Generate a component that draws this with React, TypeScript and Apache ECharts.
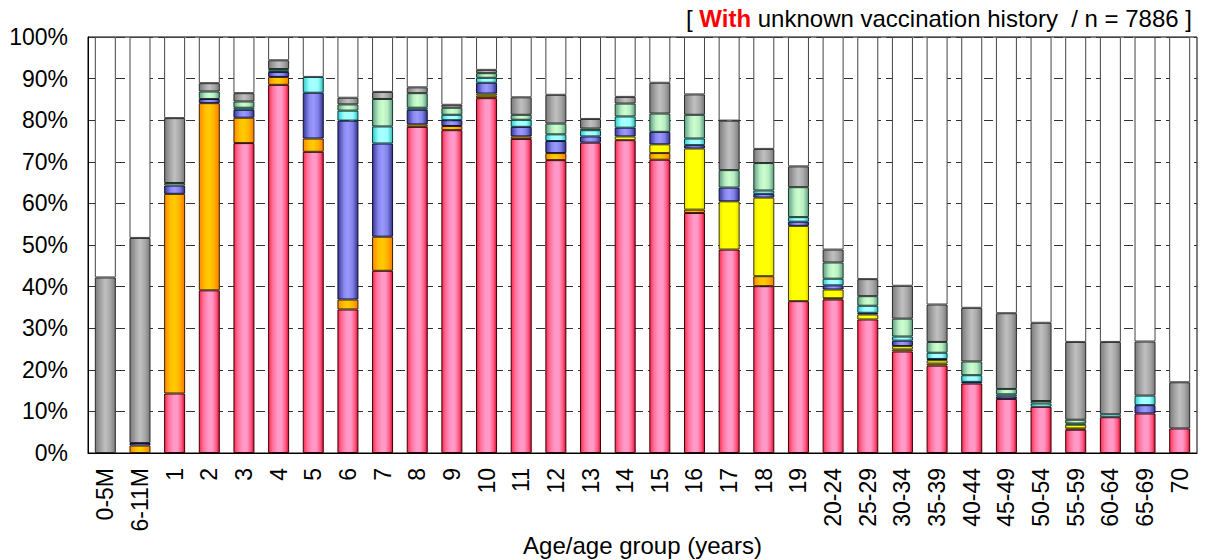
import React, { useEffect, useRef } from "react";
import * as echarts from "echarts";

const categories = [
  "0-5M", "6-11M", "1", "2", "3", "4", "5", "6", "7", "8", "9", "10",
  "11", "12", "13", "14", "15", "16", "17", "18", "19",
  "20-24", "25-29", "30-34", "35-39", "40-44", "45-49", "50-54",
  "55-59", "60-64", "65-69", "70",
];

const pinkValues = [0, 0, 14.3, 39.1, 74.5, 88.5, 72.4, 34.5, 43.8, 78.4, 77.6, 85.3, 75.5, 70.4, 74.6, 75.2, 70.5, 57.7, 48.9, 40.1, 36.5, 36.9, 32.1, 24.4, 21.0, 16.7, 13.0, 11.1, 5.6, 8.6, 9.5, 5.9];
const orangeValues = [0, 1.8, 48.0, 45.0, 6.1, 1.9, 3.2, 2.4, 8.2, 0.6, 1.0, 0.6, 0.6, 1.7, 0, 0, 1.6, 0.8, 0, 2.4, 0, 0.3, 0, 0.5, 0.5, 0, 0, 0, 0.3, 0, 0, 0];
const yellowValues = [0, 0, 0, 0, 0, 0, 0, 0, 0, 0, 0, 0.5, 0, 0, 0, 0.9, 2.1, 14.7, 11.6, 18.9, 18.1, 2.1, 1.2, 0.8, 0.8, 0, 0, 0, 0.9, 0, 0, 0];
const blueValues = [0, 0.6, 2.0, 1.0, 1.9, 1.2, 11.0, 43.0, 22.4, 3.5, 1.4, 2.6, 2.3, 2.9, 1.5, 2.1, 3.0, 0.8, 3.3, 0.9, 1.0, 1.0, 0.4, 1.3, 0.3, 0.4, 0.6, 0, 0, 0, 2.0, 0];
const cyanValues = [0, 0, 0, 0, 0.5, 0.3, 3.8, 2.4, 4.1, 0.5, 1.3, 1.2, 1.7, 1.6, 1.5, 2.7, 0, 1.6, 0, 0.8, 1.1, 1.6, 1.7, 1.0, 1.5, 1.6, 0.5, 0.8, 0.3, 0.7, 2.3, 0];
const greenValues = [0, 0, 0.6, 1.8, 1.5, 0.4, 0, 1.5, 6.6, 3.5, 1.7, 1.1, 1.2, 2.6, 0.4, 3.1, 4.4, 5.7, 4.2, 6.6, 7.2, 3.9, 2.3, 4.3, 2.6, 3.3, 1.3, 0.6, 0.9, 0, 0, 0];
const greyValues = [42.2, 49.3, 15.6, 2.0, 2.0, 2.1, 0, 1.6, 1.7, 1.4, 0.7, 0.8, 4.2, 6.9, 2.3, 1.6, 7.4, 4.9, 11.9, 3.4, 5.0, 3.1, 4.1, 7.9, 9.0, 12.9, 18.2, 18.8, 18.7, 17.4, 13.0, 11.1];

const yTicks = [0, 10, 20, 30, 40, 50, 60, 70, 80, 90, 100];

const FONT = "'Liberation Sans', Arial, sans-serif";

function grad(stops: [number, string][]) {
  return {
    type: "linear",
    x: 0,
    y: 0,
    x2: 1,
    y2: 0,
    colorStops: stops.map(([offset, color]) => ({ offset, color })),
  };
}

export default function App() {
  const ref = useRef<HTMLDivElement>(null);

  useEffect(() => {
    document.body.style.margin = "0";
    if (!ref.current) return;
    const chart = echarts.init(ref.current, null, { renderer: "svg" });

    const whiteValues = categories.map((_, i) => {
      const s =
        pinkValues[i] + orangeValues[i] + yellowValues[i] + blueValues[i] +
        cyanValues[i] + greenValues[i] + greyValues[i];
      return Math.max(0, +(100 - s).toFixed(2));
    });

    const mk = (name: string, data: number[], color: any, border: string) => ({
      name,
      type: "bar",
      stack: "total",
      barWidth: 21,
      data: data.map((v) => (v === 0 ? "-" : v)),
      itemStyle: { color, borderColor: border, borderWidth: 1 },
      emphasis: { disabled: true },
    });

    const series = [
      mk("pink", pinkValues, grad([[0, "#ff2a4a"], [0.2, "#ff6f9a"], [0.45, "#ff99c8"], [0.65, "#ff99c8"], [0.85, "#ff5a80"], [1, "#d8103a"]]), "#3a0008"),
      mk("orange", orangeValues, grad([[0, "#ff8a00"], [0.3, "#ffc000"], [0.5, "#ffcc00"], [0.75, "#ffb000"], [1, "#ff7a00"]]), "#3a2000"),
      mk("yellow", yellowValues, grad([[0, "#e8e000"], [0.2, "#ffff00"], [0.8, "#ffff00"], [1, "#e6d800"]]), "#3a3a00"),
      mk("blue", blueValues, grad([[0, "#3a3a99"], [0.3, "#8888ee"], [0.5, "#9999ff"], [0.75, "#8080e6"], [1, "#333388"]]), "#10103a"),
      mk("cyan", cyanValues, grad([[0, "#33cccc"], [0.3, "#99ffff"], [0.5, "#aaffff"], [0.75, "#99ffff"], [1, "#33bbbb"]]), "#0a3a3a"),
      mk("green", greenValues, grad([[0, "#5f9f7f"], [0.3, "#b8ecc4"], [0.5, "#ccffcc"], [0.75, "#b8ecc4"], [1, "#5f9f7f"]]), "#1a3a2a"),
      mk("grey", greyValues, grad([[0, "#7a7a7a"], [0.3, "#a8a8a8"], [0.5, "#c0c0c0"], [0.75, "#a8a8a8"], [1, "#7a7a7a"]]), "#2a2a2a"),
      mk("white", whiteValues, "#ffffff", "#444444"),
    ];

    chart.setOption({
      animation: false,
      title: {
        text: "[ {r|With} unknown vaccination history  / n = 7886 ]",
        right: 8,
        top: 1,
        textStyle: {
          fontFamily: FONT,
          fontSize: 24,
          fontWeight: "normal",
          color: "#000",
          rich: {
            r: { fontFamily: FONT, fontSize: 24, fontWeight: "bold", color: "#ff0000" },
          },
        },
      },
      grid: {
        left: 88,
        right: 8,
        top: 37,
        bottom: 107,
        outerBoundsMode: "none",
        containLabel: false,
        show: true,
        borderColor: "#000",
        borderWidth: 1,
        backgroundColor: "transparent",
      },
      xAxis: {
        type: "category",
        data: categories,
        boundaryGap: true,
        name: "Age/age group (years)",
        nameLocation: "middle",
        nameGap: 80,
        nameMoveOverlap: false,
        nameTextStyle: { fontFamily: FONT, fontSize: 24, color: "#000" },
        axisLine: { show: true, lineStyle: { color: "#000", width: 1 } },
        axisTick: { show: false },
        axisLabel: {
          interval: 0,
          rotate: 90,
          margin: 15,
          fontFamily: FONT,
          fontSize: 23,
          color: "#000",
        },
      },
      yAxis: {
        type: "value",
        min: yTicks[0],
        max: yTicks[yTicks.length - 1],
        interval: 10,
        axisLine: { show: true, lineStyle: { color: "#000", width: 1 } },
        axisTick: { show: false },
        axisLabel: {
          margin: 20,
          fontFamily: FONT,
          fontSize: 23,
          color: "#000",
          formatter: "{value}%",
        },
        splitLine: {
          show: true,
          lineStyle: { color: "#333", width: 1.2, type: [9, 5] },
        },
      },
      series,
    });

    return () => chart.dispose();
  }, []);

  return <div ref={ref} style={{ width: 1205, height: 560 }} />;
}
